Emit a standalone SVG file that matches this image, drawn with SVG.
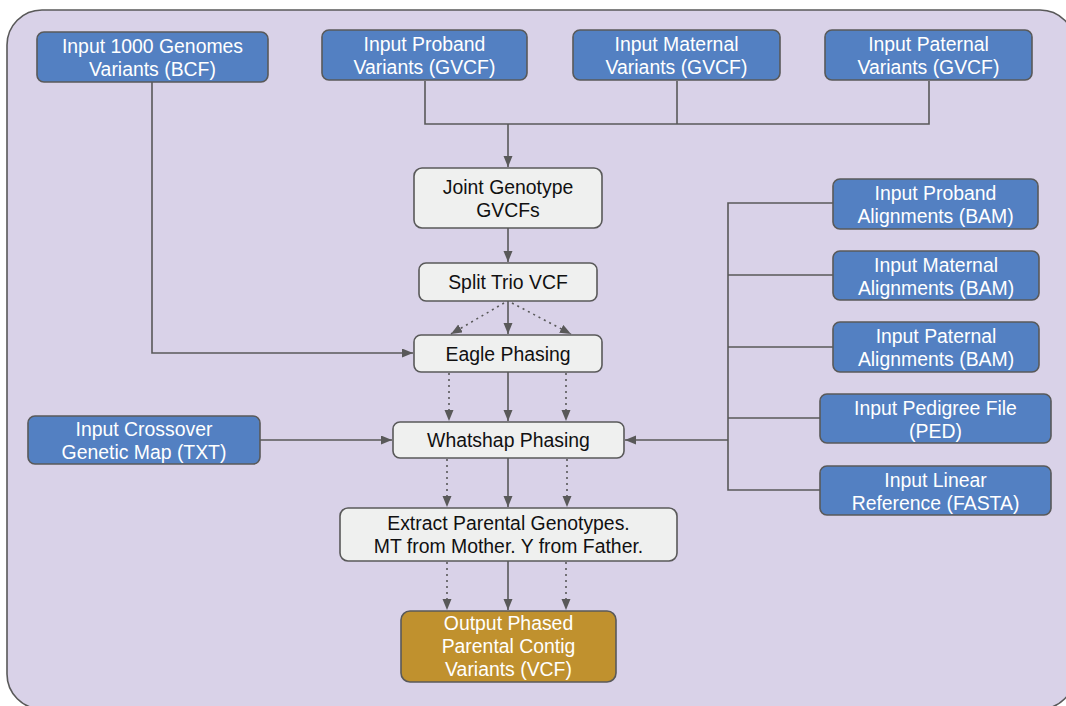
<svg xmlns="http://www.w3.org/2000/svg" width="1066" height="706" viewBox="0 0 1066 706">
  <style>
    .frame { fill: #d9d2e8; stroke: #595959; stroke-width: 1.6; }
    .input { fill: #5380c2; stroke: #595959; stroke-width: 1.6; }
    .step { fill: #eff0ef; stroke: #595959; stroke-width: 1.6; }
    .output { fill: #c0912e; stroke: #595959; stroke-width: 1.6; }
    text { font-family: "Liberation Sans", Arial, sans-serif; font-size: 19.4px; text-anchor: middle; }
    .light { fill: #ffffff; }
    .dark { fill: #111111; }
    .wire { fill: none; stroke: #595959; stroke-width: 1.6; }
    .dot { fill: none; stroke: #595959; stroke-width: 1.6; stroke-dasharray: 2 4; }
  </style>
  <defs>
    <marker id="arrow" markerUnits="userSpaceOnUse" markerWidth="12" markerHeight="10" refX="11" refY="4.5" orient="auto">
      <path d="M0,0 L11,4.5 L0,9 z" fill="#595959"/>
    </marker>
  </defs>

  <!-- background panel -->
  <rect class="frame" x="7" y="10" width="1068" height="699" rx="35" ry="35"/>

  <!-- connectors -->
  <g id="connectors">
    <!-- variant inputs merge into joint genotyping -->
    <path class="wire" d="M425,81 V124 H929 V81"/>
    <path class="wire" d="M677,81 V124"/>
    <path class="wire" d="M508,124 V167" marker-end="url(#arrow)"/>
    <path class="wire" d="M508,228 V262" marker-end="url(#arrow)"/>
    <!-- split trio to eagle -->
    <path class="dot" d="M504,303 L451,334" marker-end="url(#arrow)"/>
    <path class="wire" d="M508,301 V334" marker-end="url(#arrow)"/>
    <path class="dot" d="M512,303 L571,334" marker-end="url(#arrow)"/>
    <!-- 1000 genomes reference panel -->
    <path class="wire" d="M152,82 V353 H413" marker-end="url(#arrow)"/>
    <!-- eagle to whatshap -->
    <path class="dot" d="M449,373 V421" marker-end="url(#arrow)"/>
    <path class="wire" d="M508,372 V421" marker-end="url(#arrow)"/>
    <path class="dot" d="M566,373 V421" marker-end="url(#arrow)"/>
    <!-- genetic map -->
    <path class="wire" d="M260,440 H392" marker-end="url(#arrow)"/>
    <!-- alignments, pedigree and reference bus -->
    <path class="wire" d="M833,203 H728 V490 H820"/>
    <path class="wire" d="M833,275 H728"/>
    <path class="wire" d="M833,347 H728"/>
    <path class="wire" d="M820,418 H728"/>
    <path class="wire" d="M728,440 H625" marker-end="url(#arrow)"/>
    <!-- whatshap to extract -->
    <path class="dot" d="M447,459 V507" marker-end="url(#arrow)"/>
    <path class="wire" d="M508,458 V507" marker-end="url(#arrow)"/>
    <path class="dot" d="M567,459 V507" marker-end="url(#arrow)"/>
    <!-- extract to output -->
    <path class="dot" d="M447,562 V610" marker-end="url(#arrow)"/>
    <path class="wire" d="M508,561 V610" marker-end="url(#arrow)"/>
    <path class="dot" d="M566,562 V610" marker-end="url(#arrow)"/>
  </g>

  <!-- inputs along the top -->
  <g id="in-1000g">
    <rect class="input" x="37" y="32" width="231" height="50" rx="7"/>
    <text class="light" x="152.5" y="53">Input 1000 Genomes<tspan x="152.5" dy="23">Variants (BCF)</tspan></text>
  </g>
  <g id="in-proband-gvcf">
    <rect class="input" x="322" y="30" width="205" height="50" rx="7"/>
    <text class="light" x="424.5" y="51">Input Proband<tspan x="424.5" dy="23">Variants (GVCF)</tspan></text>
  </g>
  <g id="in-maternal-gvcf">
    <rect class="input" x="573" y="30" width="207" height="50" rx="7"/>
    <text class="light" x="676.5" y="51">Input Maternal<tspan x="676.5" dy="23">Variants (GVCF)</tspan></text>
  </g>
  <g id="in-paternal-gvcf">
    <rect class="input" x="825" y="30" width="207" height="50" rx="7"/>
    <text class="light" x="928.5" y="51">Input Paternal<tspan x="928.5" dy="23">Variants (GVCF)</tspan></text>
  </g>

  <!-- processing steps -->
  <g id="joint-genotype">
    <rect class="step" x="414" y="168" width="188" height="60" rx="8"/>
    <text class="dark" x="508" y="194">Joint Genotype<tspan x="508" dy="23">GVCFs</tspan></text>
  </g>
  <g id="split-trio">
    <rect class="step" x="419" y="263" width="178" height="38" rx="7"/>
    <text class="dark" x="508" y="289">Split Trio VCF</text>
  </g>
  <g id="eagle">
    <rect class="step" x="414" y="335" width="188" height="37" rx="7"/>
    <text class="dark" x="508" y="360.5">Eagle Phasing</text>
  </g>
  <g id="whatshap">
    <rect class="step" x="393" y="422" width="231" height="36" rx="7"/>
    <text class="dark" x="508.5" y="447">Whatshap Phasing</text>
  </g>
  <g id="extract">
    <rect class="step" x="340" y="508" width="337" height="53" rx="8"/>
    <text class="dark" x="508.5" y="530">Extract Parental Genotypes.<tspan x="508.5" dy="23">MT from Mother. Y from Father.</tspan></text>
  </g>
  <g id="output">
    <rect class="output" x="401" y="611" width="215" height="71" rx="9"/>
    <text class="light" x="508.5" y="630">Output Phased<tspan x="508.5" dy="23">Parental Contig</tspan><tspan x="508.5" dy="23">Variants (VCF)</tspan></text>
  </g>

  <!-- left input -->
  <g id="in-genetic-map">
    <rect class="input" x="28" y="416" width="232" height="48" rx="7"/>
    <text class="light" x="144" y="436">Input Crossover<tspan x="144" dy="23">Genetic Map (TXT)</tspan></text>
  </g>

  <!-- right-hand inputs -->
  <g id="in-proband-bam">
    <rect class="input" x="833" y="179" width="205" height="50" rx="7"/>
    <text class="light" x="935.5" y="200">Input Proband<tspan x="935.5" dy="23">Alignments (BAM)</tspan></text>
  </g>
  <g id="in-maternal-bam">
    <rect class="input" x="833" y="251" width="206" height="49" rx="7"/>
    <text class="light" x="936" y="271.5">Input Maternal<tspan x="936" dy="23">Alignments (BAM)</tspan></text>
  </g>
  <g id="in-paternal-bam">
    <rect class="input" x="833" y="322" width="206" height="50" rx="7"/>
    <text class="light" x="936" y="343">Input Paternal<tspan x="936" dy="23">Alignments (BAM)</tspan></text>
  </g>
  <g id="in-pedigree">
    <rect class="input" x="820" y="394" width="231" height="49" rx="7"/>
    <text class="light" x="935.5" y="414.5">Input Pedigree File<tspan x="935.5" dy="23">(PED)</tspan></text>
  </g>
  <g id="in-reference">
    <rect class="input" x="820" y="466" width="231" height="49" rx="7"/>
    <text class="light" x="935.5" y="486.5">Input Linear<tspan x="935.5" dy="23">Reference (FASTA)</tspan></text>
  </g>
</svg>
